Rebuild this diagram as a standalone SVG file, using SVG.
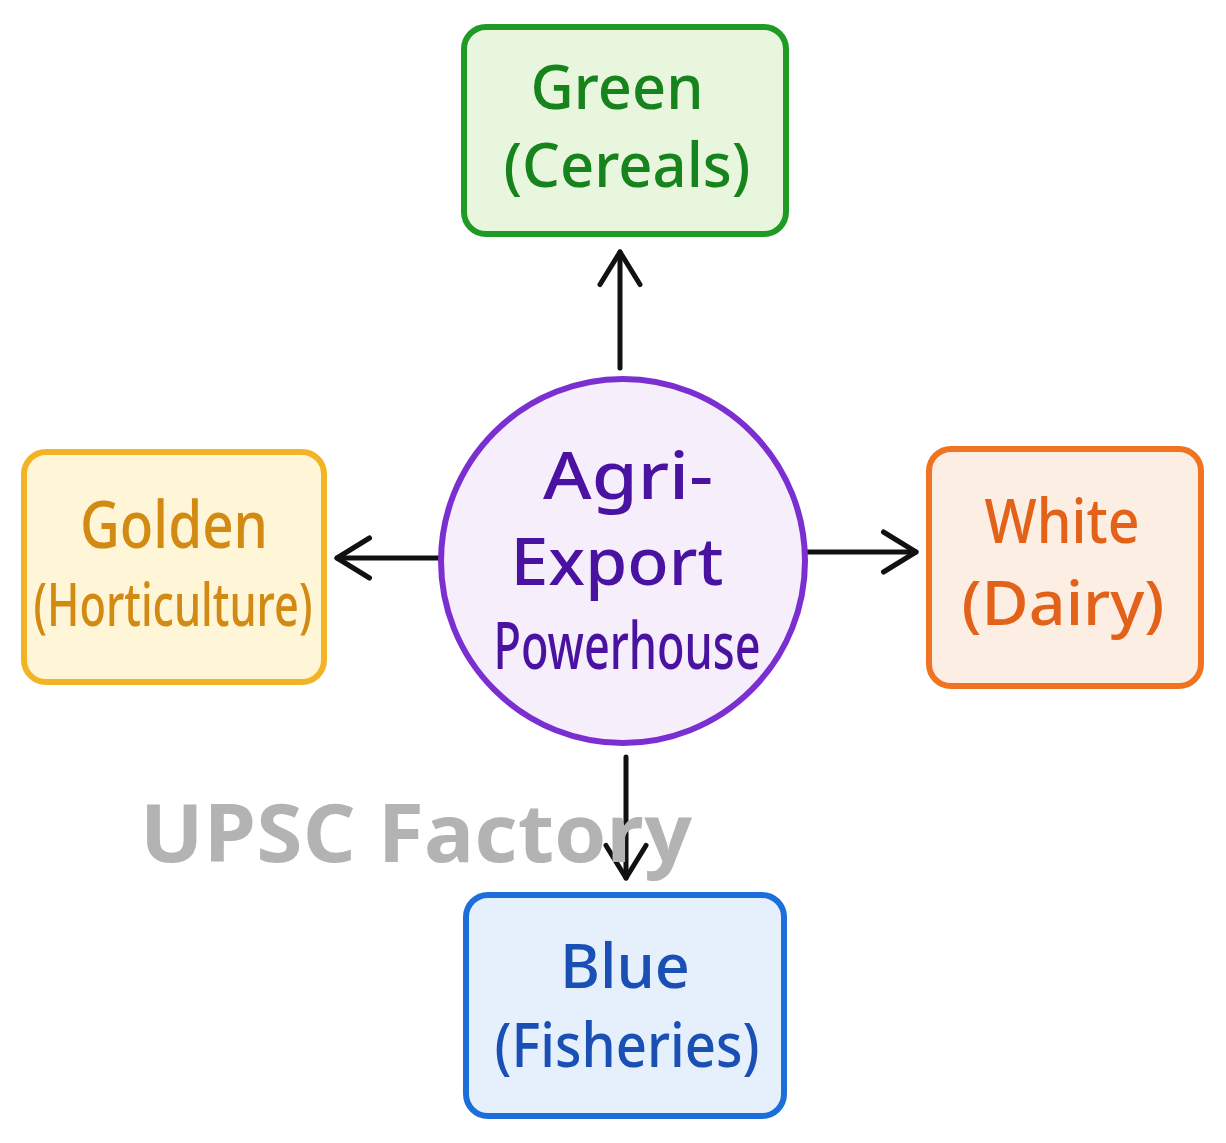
<svg xmlns="http://www.w3.org/2000/svg" width="1226" height="1143" viewBox="0 0 1226 1143">
<defs>
<marker id="arr" viewBox="0 0 20 20" refX="17" refY="10" markerWidth="10" markerHeight="10" markerUnits="strokeWidth" orient="auto">
<path d="M4,2 L17,10 L4,18" fill="none" stroke="#111" stroke-width="2" stroke-linecap="round" stroke-linejoin="round"/>
</marker>
</defs>
<style>
.box{stroke-width:6}
.lbl{font-family:"Noto Sans","Open Sans",sans-serif;font-weight:500;text-anchor:middle}
.edge{stroke:#111;stroke-width:5;fill:none;stroke-linecap:round}
.wm{font-family:"Open Sans","Noto Sans",sans-serif;font-weight:700;fill:#b3b3b3}
</style>
<rect width="1226" height="1143" fill="#ffffff"/>
<g id="connectors">
<line class="edge" x1="620" y1="368" x2="620" y2="252" marker-end="url(#arr)"/>
<line class="edge" x1="440" y1="558" x2="337" y2="558" marker-end="url(#arr)"/>
<line class="edge" x1="806" y1="552" x2="916" y2="552" marker-end="url(#arr)"/>
<line class="edge" x1="626" y1="757" x2="626" y2="878" marker-end="url(#arr)"/>
</g>
<g id="center">
<circle cx="623" cy="561" r="182" fill="#f6eefb" stroke="#7b2fd1" stroke-width="6"/>
<text class="lbl" fill="#4a12a0" font-size="66" x="628" y="499" textLength="170" lengthAdjust="spacingAndGlyphs">Agri-</text>
<text class="lbl" fill="#4a12a0" font-size="66" x="617" y="585" textLength="213" lengthAdjust="spacingAndGlyphs">Export</text>
<text class="lbl" fill="#4a12a0" font-size="66" x="627" y="669" textLength="267" lengthAdjust="spacingAndGlyphs">Powerhouse</text>
</g>
<g id="green">
<rect class="box" x="464" y="27" width="322" height="207" rx="22" fill="#e8f6de" stroke="#1f9a24"/>
<text class="lbl" fill="#17831c" font-size="62" x="617" y="109" textLength="173" lengthAdjust="spacingAndGlyphs">Green</text>
<text class="lbl" fill="#17831c" font-size="62" x="627" y="187" textLength="247" lengthAdjust="spacingAndGlyphs">(Cereals)</text>
</g>
<g id="golden">
<rect class="box" x="24" y="452" width="300" height="230" rx="22" fill="#fff6d8" stroke="#f2b324"/>
<text class="lbl" fill="#d28a12" font-size="66" x="174" y="548" textLength="188" lengthAdjust="spacingAndGlyphs">Golden</text>
<text class="lbl" fill="#d28a12" font-size="60" x="173" y="626" textLength="279" lengthAdjust="spacingAndGlyphs">(Horticulture)</text>
</g>
<g id="white">
<rect class="box" x="929" y="449" width="272" height="237" rx="22" fill="#fdeee3" stroke="#f07322"/>
<text class="lbl" fill="#e2621a" font-size="62" x="1062" y="543" textLength="155" lengthAdjust="spacingAndGlyphs">White</text>
<text class="lbl" fill="#e2621a" font-size="62" x="1063" y="625" textLength="203" lengthAdjust="spacingAndGlyphs">(Dairy)</text>
</g>
<g id="blue">
<rect class="box" x="466" y="895" width="318" height="221" rx="22" fill="#e5f0fc" stroke="#1c6fd8"/>
<text class="lbl" fill="#1a4fb4" font-size="62" x="625" y="988" textLength="130" lengthAdjust="spacingAndGlyphs">Blue</text>
<text class="lbl" fill="#1a4fb4" font-size="62" x="627" y="1067" textLength="265" lengthAdjust="spacingAndGlyphs">(Fisheries)</text>
</g>
<text class="wm" x="140" y="862" font-size="80" textLength="552" lengthAdjust="spacingAndGlyphs">UPSC Factory</text>
</svg>
